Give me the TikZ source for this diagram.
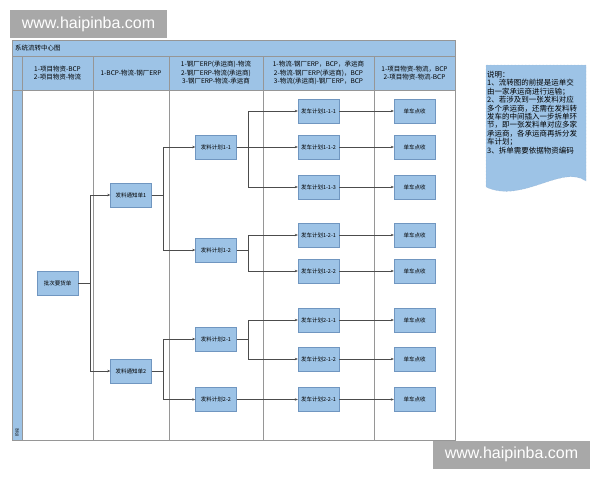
\documentclass[tikz,border=0pt]{standalone}
\usepackage{fontspec}
\setmainfont{Noto Sans CJK SC}
\newfontfamily\wmfont{Liberation Sans}
\usetikzlibrary{arrows.meta}
\definecolor{lblue}{RGB}{157,195,230}
\definecolor{bblue}{RGB}{112,150,192}
\definecolor{grey}{RGB}{150,150,150}
\definecolor{wmgrey}{RGB}{168,168,168}

\begin{document}
\begin{tikzpicture}[x=1pt,y=-1pt]
    \tikzset{%
      box/.style={rectangle, draw=bblue, fill=lblue, minimum width=41pt,
        minimum height=24pt, inner sep=0pt, font=\fontsize{5.5}{6}\selectfont},
      hdr/.style={align=center, inner sep=0pt, font=\fontsize{6.5}{8.5}\selectfont},
      link/.style={draw=black!70, line width=0.5pt},
      arr/.style={link, -{Stealth[length=3pt, width=2.5pt]}},
      wm/.style={fill=wmgrey, text=white, inner sep=0pt, minimum width=157pt,
        minimum height=28pt, font=\wmfont\fontsize{16}{16}\selectfont},
    }
    \useasboundingbox (0,0) rectangle (600,480);
    \fill [white] (0,0) rectangle (600,480);

    % frame, title band and header row
    \fill [lblue] (12,40) rectangle (455,90);
    \fill [lblue] (12,40) rectangle (22,440);
    \draw [grey] (12,40) rectangle (455,440);
    \draw [grey] (12,56) -- (455,56);
    \draw [grey] (12,90) -- (455,90);
    \draw [grey] (22,56) -- (22,440);
    \draw [grey] (93,56) -- (93,440);
    \draw [grey] (169,56) -- (169,440);
    \draw [grey] (263,56) -- (263,440);
    \draw [grey] (374,56) -- (374,440);
    \node [anchor=west, inner sep=0pt, font=\fontsize{6.5}{7}\selectfont] (T) at (15,48) {系统流转中心图};
    \node [rotate=90, inner sep=0pt, font=\fontsize{4}{4}\selectfont] (S) at (17,432) {阶段};

    \node [hdr] (H1) at (57.5,73) {1-项目物资-BCP\\2-项目物资-物流};
    \node [hdr] (H2) at (131,73) {1-BCP-物流-钢厂ERP};
    \node [hdr] (H3) at (216,73) {1-钢厂ERP(承运商)-物流\\2-钢厂ERP-物流(承运商)\\3-钢厂ERP-物流-承运商};
    \node [hdr] (H4) at (318.5,73) {1-物流-钢厂ERP，BCP，承运商\\2-物流-钢厂ERP(承运商)，BCP\\3-物流(承运商)-钢厂ERP，BCP};
    \node [hdr] (H5) at (414.5,73) {1-项目物资-物流，BCP\\2-项目物资-物流-BCP};

    % column 1 and 2
    \node [box] (P) at (57.5,283) {批次要货单};
    \node [box] (N1) at (131,195) {发料通知单1};
    \node [box] (N2) at (131,371) {发料通知单2};
    \draw [arr] (P.east) -- ++(12,0) |- (N1.west);
    \draw [arr] (P.east) -- ++(12,0) |- (N2.west);

    % column 3
    \node [box] (F11) at (216,147) {发料计划1-1};
    \node [box] (F12) at (216,250) {发料计划1-2};
    \node [box] (F21) at (216,339) {发料计划2-1};
    \node [box] (F22) at (216,399.5) {发料计划2-2};
    \draw [arr] (N1.east) -- ++(12,0) |- (F11.west);
    \draw [arr] (N1.east) -- ++(12,0) |- (F12.west);
    \draw [arr] (N2.east) -- ++(12,0) |- (F21.west);
    \draw [arr] (N2.east) -- ++(12,0) |- (F22.west);

    % column 4
    \node [box] (G111) at (318.5,111) {发车计划1-1-1};
    \node [box] (G112) at (318.5,147) {发车计划1-1-2};
    \node [box] (G113) at (318.5,187) {发车计划1-1-3};
    \node [box] (G121) at (318.5,235) {发车计划1-2-1};
    \node [box] (G122) at (318.5,271) {发车计划1-2-2};
    \node [box] (G211) at (318.5,320) {发车计划2-1-1};
    \node [box] (G212) at (318.5,359) {发车计划2-1-2};
    \node [box] (G221) at (318.5,399.5) {发车计划2-2-1};
    \draw [arr] (F11.east) -- ++(12,0) |- (G111.west);
    \draw [arr] (F11.east) -- (G112.west);
    \draw [arr] (F11.east) -- ++(12,0) |- (G113.west);
    \draw [arr] (F12.east) -- ++(12,0) |- (G121.west);
    \draw [arr] (F12.east) -- ++(12,0) |- (G122.west);
    \draw [arr] (F21.east) -- ++(12,0) |- (G211.west);
    \draw [arr] (F21.east) -- ++(12,0) |- (G212.west);
    \draw [arr] (F22.east) -- (G221.west);

    % column 5
    \foreach \g in {111,112,113,121,122,211,212,221} {
      \node [box] (K\g) at (414.5,0 |- G\g) {单车点收};
      \draw [arr] (G\g.east) -- (K\g.west);
    }

    % note
    \draw [bblue!80, densely dotted, fill=lblue] (486,65) -- (586,65) -- (586,181)
      .. controls (562,164) and (522,204) .. (486,187) -- cycle;
    \node [anchor=north west, align=left, inner sep=0pt,
      font=\fontsize{7.5}{8.4}\selectfont] (note) at (487,71)
      {说明：\\1、流转图的前提是运单交\\由一家承运商进行运输；\\2、若涉及到一张发料对应\\多个承运商，还需在发料转\\发车的中间插入一步拆单环\\节，即一张发料单对应多家\\承运商，各承运商再拆分发\\车计划；\\3、拆单需要依据物资编码};

    % watermarks
    \node [wm] (W1) at (88.5,24) {www.haipinba.com};
    \node [wm] (W2) at (511.5,454.5) {www.haipinba.com};
\end{tikzpicture}
\end{document}
